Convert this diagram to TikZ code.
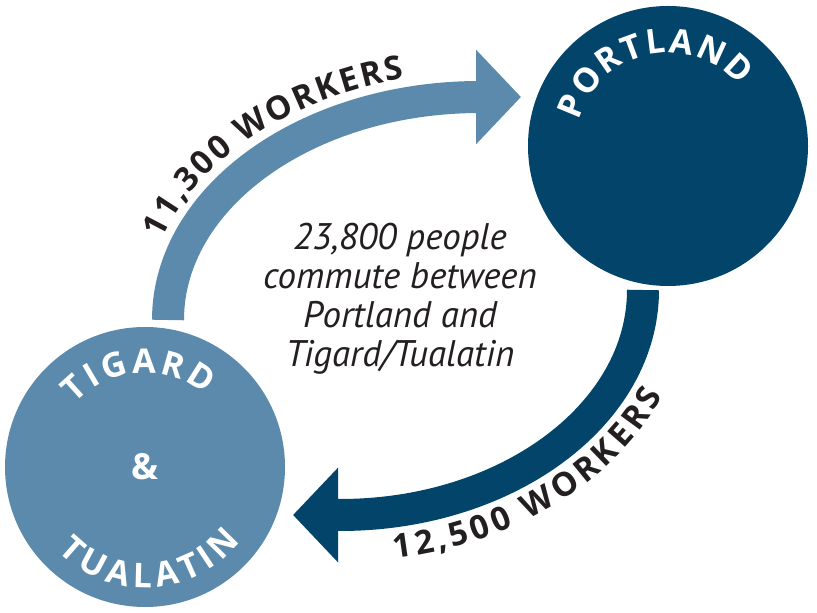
\documentclass[tikz,border=0pt]{standalone}
\usepackage{fontspec}
\newfontfamily\capsfont{Open Sans}
\newfontfamily\notefont{PT Sans}
\usetikzlibrary{arrows.meta,calc,decorations.text}
\definecolor{tigblue}{HTML}{5B8AAC}
\definecolor{portblue}{HTML}{03456A}
\definecolor{notegray}{HTML}{231F20}
\tikzset{
	city/.style={circle, minimum size=280pt, inner sep=0pt, outer sep=0pt},
	flow/.style={line width=32pt, -{Triangle[length=45pt, width=92pt]}},
	citytext/.style={decorate, decoration={text along path, text align={fit to path}, text={|\capsfont\bfseries\fontsize{34}{34}\selectfont\color{white}|#1}}},
	flowtext/.style={decorate, decoration={text along path, text align={fit to path}, text={|\capsfont\bfseries\fontsize{33}{33}\selectfont\color{notegray}|#1}}}
}

\begin{document}
\begin{tikzpicture}[x=1pt, y=1pt]
			%%%%% START %%%%%
			\fill[white] (0, 0) rectangle (817, 613);
			\useasboundingbox (0, 0) rectangle (817, 613);
			
			\node[city, fill=portblue] (port) at (668, 467) {};
			\node[city, fill=tigblue] (tig) at (145, 146) {};
			
			\draw[flow, tigblue] ($(tig.center)+(23, 147)$) arc[start angle=180, end angle=90, x radius=312, y radius=223] -- ($(port.center)+(-147, 49)$);
			\draw[flow, portblue] ($(port.center)+(-25, -144)$) arc[start angle=0, end angle=-90, x radius=303, y radius=225] -- ($(tig.center)+(148, -48)$);
			
			\path[flowtext={11,300 WORKERS}] ($(480, 293)+(161:337 and 248)$) arc[start angle=161, end angle=103, x radius=337, y radius=248];
			\path[flowtext={12,500 WORKERS}] ($(340, 323)+(-81:350 and 272)$) arc[start angle=-81, end angle=-23, x radius=350, y radius=272];
			
			\path[citytext={PORTLAND}] ($(port.center)+(164:93)$) arc[start angle=164, end angle=40, radius=93];
			\path[citytext={TIGARD}] ($(tig.center)+(138:94)$) arc[start angle=138, end angle=50, radius=94];
			\path[citytext={TUALATIN}] ($(tig.center)+(224:121)$) arc[start angle=224, end angle=322, radius=121];
			\node[font=\capsfont\bfseries\fontsize{36}{36}\selectfont, text=white] (amp) at (tig.center) {\&};
			
			\node[align=center, font=\notefont\itshape\fontsize{37}{39}\selectfont, text=notegray] (note) at (400, 314) {23,800 people\\commute between\\Portland and\\Tigard/Tualatin};
			%%%%% END %%%%%
\end{tikzpicture}
\end{document}
